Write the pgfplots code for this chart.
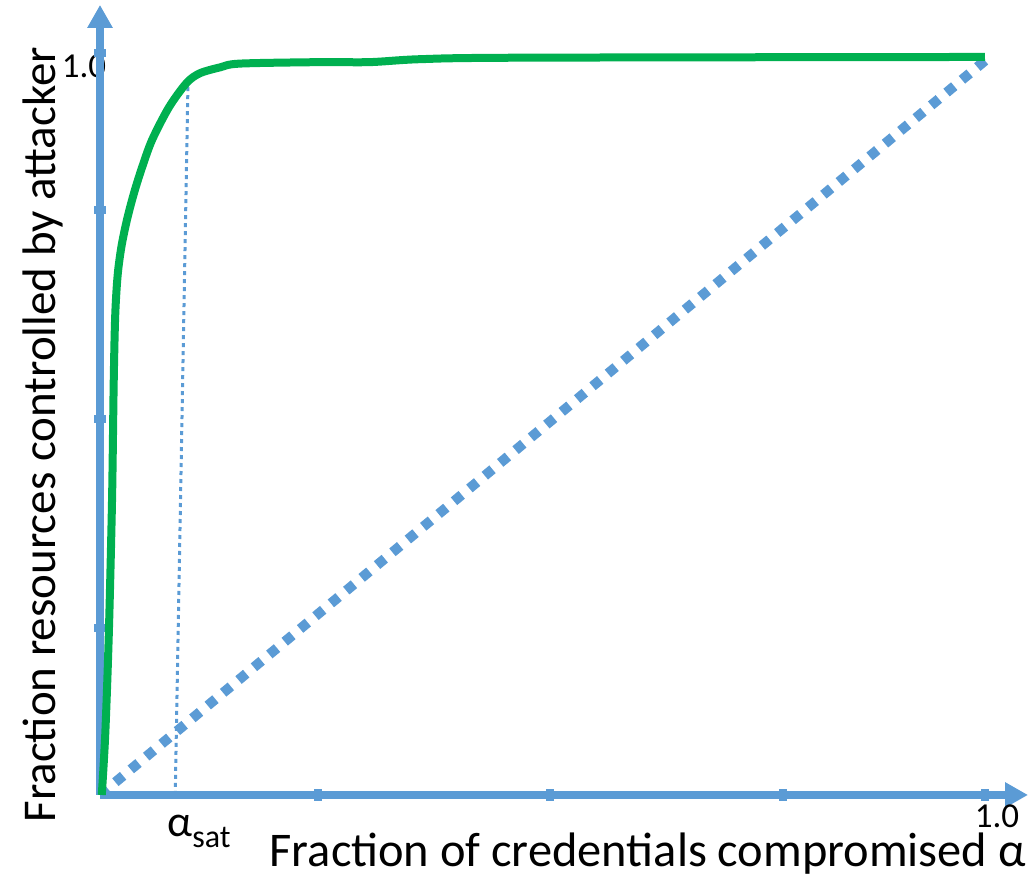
\documentclass[border=0pt]{standalone}
\usepackage{pgfplots}
\pgfplotsset{compat=1.18}
\usetikzlibrary{arrows.meta}
\usepackage{fontspec}
\setmainfont{Carlito}
\definecolor{axblue}{HTML}{5B9BD5}
\definecolor{curvegreen}{HTML}{00B050}

\begin{document}
\begin{tikzpicture}
\pgfplotsset{set layers}
\begin{axis}[
	x=442.5pt, y=369pt,
	xmin=0, xmax=1.0486, ymin=0, ymax=1.0705,
	axis lines=left,
	axis line style={axblue, line width=4pt, -{Triangle[length=11.5pt,width=12pt]}},
	xtick={0.246,0.508,0.772,1.0}, ytick={0.226,0.51,0.793,1.005},
	xticklabels={}, yticklabels={},
	tick align=center, major tick length=6pt,
	tick style={axblue, line width=4pt},
	clip=false,
	]
	% labels under the axis lines
	\begin{pgfonlayer}{axis background}
	\node[font=\fontsize{17.5}{21}\selectfont] at (axis cs:-0.018,0.988) {1.0};
	\end{pgfonlayer}
	\node[inner sep=0pt, font=\fontsize{17.5}{21}\selectfont] at (axis cs:1.0136,-0.0285) {1.0};
	\node[anchor=base west, inner sep=0pt, font=\fontsize{22}{26}\selectfont] at (axis cs:0.0757,-0.0569)
		{α\raisebox{-5.5pt}{\fontsize{16}{19}\selectfont sat}};
	\node[anchor=base, inner sep=0pt, font=\fontsize{24.2}{29}\selectfont] at (axis cs:0.619,-0.0965)
		{Fraction of credentials compromised α};
	\node[anchor=base, rotate=90, inner sep=0pt, font=\fontsize{23.5}{28}\selectfont] at (axis cs:-0.0508,0.488)
		{Fraction resources controlled by attacker};
	%
	% diagonal (no saturation)
	\addplot[axblue, line width=5pt, dash pattern=on 5pt off 5pt] coordinates {
		(0.0, 0.0) (1.0, 0.995)
	};
	% alpha_sat marker
	\addplot[axblue, line width=1.5pt, dash pattern=on 2pt off 2pt] coordinates {
		(0.085, 0.0) (0.0994, 0.963)
	};
	% saturation curve
	\addplot[curvegreen, line width=4pt, smooth, tension=0.5] coordinates {
		(0.002, 0.000)
		(0.006, 0.084)
		(0.010, 0.220)
		(0.0136, 0.400)
		(0.0155, 0.560)
		(0.0172, 0.650)
		(0.0200, 0.705)
		(0.0245, 0.745)
		(0.031, 0.782)
		(0.039, 0.818)
		(0.048, 0.852)
		(0.059, 0.888)
		(0.078, 0.932)
		(0.098, 0.965)
		(0.113, 0.978)
		(0.136, 0.986)
		(0.158, 0.991)
		(0.249, 0.993)
		(0.305, 0.993)
		(0.362, 0.997)
		(0.475, 0.999)
		(1.000, 1.000)
	};
	\coordinate (bl) at (axis cs:-0.113,-0.1152);
	\coordinate (tr) at (axis cs:1.0486,1.0772);
\end{axis}
\pgfresetboundingbox
\path (bl) rectangle (tr);
\end{tikzpicture}
\end{document}
